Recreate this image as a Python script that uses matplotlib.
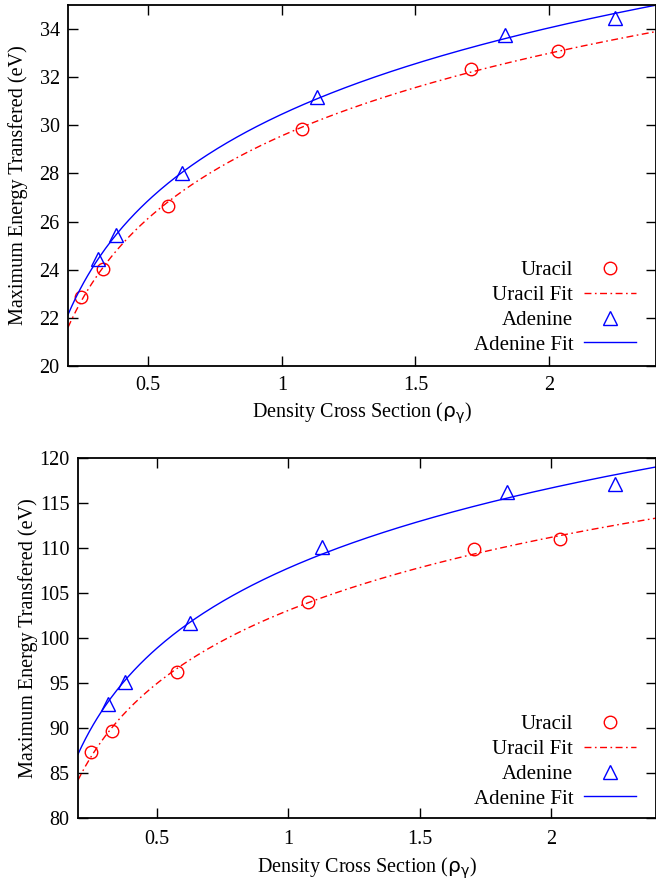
import matplotlib
matplotlib.use("Agg")
import matplotlib.pyplot as plt
import numpy as np

# values
uracil_x = [0.25, 0.33, 0.575, 1.076, 1.708, 2.033]
adenine_x = [0.313, 0.378, 0.627, 1.13, 1.834, 2.245]

uracil_low = [22.88, 24.02, 26.65, 29.85, 32.33, 33.10]
adenine_low = [24.43, 25.43, 28.00, 31.19, 33.76, 34.46]

uracil_high = [87.3, 89.7, 96.2, 104.0, 109.9, 111.0]
adenine_high = [92.7, 95.1, 101.7, 110.1, 116.2, 117.1]

panels = [
    (uracil_low, adenine_low, (20, 35), [20, 22, 24, 26, 28, 30, 32, 34]),
    (uracil_high, adenine_high, (80, 120), [80, 85, 90, 95, 100, 105, 110, 115, 120]),
]
xticks = [0.5, 1, 1.5, 2]

plt.rcParams['font.family'] = ['Liberation Serif', 'DejaVu Serif']
plt.rcParams['mathtext.fontset'] = 'dejavusans'

red = '#ff0000'
blue = '#0000ff'

fig = plt.figure(figsize=(6.56, 8.82), dpi=100)
rects = [
    [68 / 656, 1 - 366 / 882, 588 / 656, 361 / 882],
    [78 / 656, 1 - 818 / 882, 578 / 656, 360 / 882],
]
# per panel: tick label pad, xlabel offset (px), legend bottom offset (px)
layout = [(7, 34, 3), (9, 38, 1)]


def log_fit(x, y):
    a, b = np.polyfit(np.log(x), y, 1)
    xs = np.linspace(0.2, 2.4, 300)
    return xs, a * np.log(xs) + b


for rect, (ura, ade, ylim, yticks), (pad, xl_off, leg_off) in zip(rects, panels, layout):
    ax = fig.add_axes(rect)
    w_px = rect[2] * 656
    h_px = rect[3] * 882

    ax.plot(uracil_x, ura, linestyle='none', marker='o', markersize=9,
            markerfacecolor='none', markeredgecolor=red, markeredgewidth=1.0,
            label='Uracil')
    xs, ys = log_fit(uracil_x, ura)
    ax.plot(xs, ys, color=red, linewidth=1.0, dashes=(5, 2.5, 1.2, 2.5),
            label='Uracil Fit')
    ax.plot(adenine_x, ade, linestyle='none', marker='^', markersize=9.5,
            markerfacecolor='none', markeredgecolor=blue, markeredgewidth=1.0,
            label='Adenine')
    xs, ys = log_fit(adenine_x, ade)
    ax.plot(xs, ys, color=blue, linewidth=1.0, label='Adenine Fit')

    ax.set_xlim(0.2, 2.4)
    ax.set_ylim(*ylim)
    ax.set_xticks(xticks)
    ax.set_xticklabels(['0.5', '1', '1.5', '2'])
    ax.set_yticks(yticks)
    ax.tick_params(direction='in', length=7, width=1.0, labelsize=14.5,
                   top=True, right=True)
    ax.tick_params(axis='x', pad=pad)
    ax.tick_params(axis='y', pad=6)
    for s in ax.spines.values():
        s.set_linewidth(1.3)

    ax.set_ylabel('Maximum Energy Transfered (eV)', fontsize=14.5)
    ax.yaxis.set_label_coords(-40 / w_px, 0.5)
    ax.set_xlabel(r'Density Cross Section ($\mathrm{\rho_\gamma}$)', fontsize=14.5)
    ax.xaxis.set_label_coords(0.5, -xl_off / h_px)

    ax.legend(loc='lower right', frameon=False, markerfirst=False,
              fontsize=15, handlelength=2.5, handletextpad=0.5,
              labelspacing=0.25, numpoints=1, borderaxespad=0,
              bbox_to_anchor=(1 - 12 / w_px, leg_off / h_px))

fig.savefig('out.png', dpi=100)
